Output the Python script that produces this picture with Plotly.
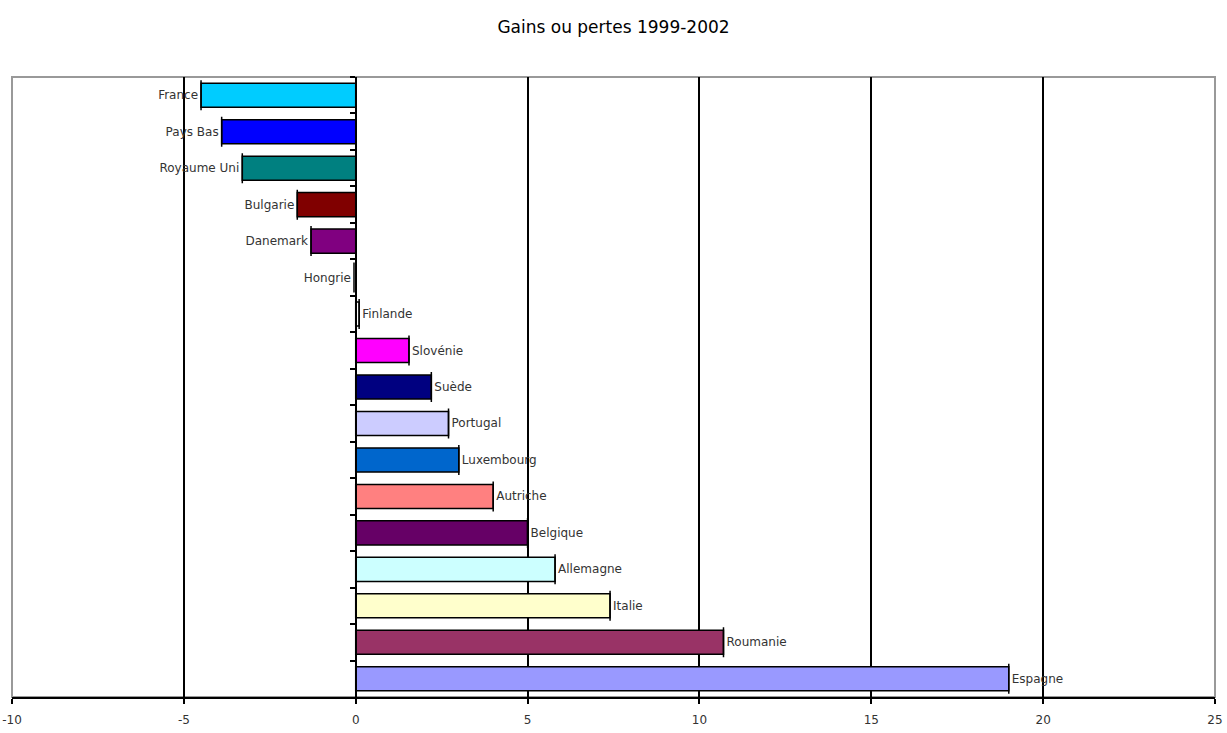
import plotly.graph_objects as go

countries = ["France", "Pays Bas", "Royaume Uni", "Bulgarie", "Danemark", "Hongrie",
             "Finlande", "Slovénie", "Suède", "Portugal", "Luxembourg", "Autriche",
             "Belgique", "Allemagne", "Italie", "Roumanie", "Espagne"]
values = [-4.5, -3.9, -3.3, -1.7, -1.3, -0.05, 0.1, 1.55, 2.2, 2.7, 3.0, 4.0,
          5.0, 5.8, 7.4, 10.7, 19.0]
errors = [0, 0, 0, 0, 0, None, 0, 0, 0, 0, 0, 0, 0, 0, 0, 0, 0]
colors = ["#00CCFF", "#0000FF", "#008080", "#800000", "#800080", "rgba(0,0,0,0)",
          "#FFFFFF", "#FF00FF", "#000080", "#CCCCFF", "#0066CC", "#FF8080",
          "#660066", "#CCFFFF", "#FFFFCC", "#993366", "#9999FF"]
outline = ["black"] * 5 + ["rgba(0,0,0,0)"] + ["black"] * 11
x_ticks = [-10, -5, 0, 5, 10, 15, 20, 25]

FONT = "DejaVu Sans"

fig = go.Figure(go.Bar(
    y=countries, x=values, orientation="h",
    marker=dict(color=colors, line=dict(color=outline, width=1.5)),
    text=countries, textposition="outside", cliponaxis=False,
    textfont=dict(family=FONT, size=12, color="#333333"),
    error_x=dict(type="data", array=errors, visible=True,
                 color="black", thickness=1.5, width=15),
    hoverinfo="x+y",
))

fig.update_layout(
    width=1227, height=733,
    margin=dict(l=12, r=12, t=77, b=36, autoexpand=False),
    plot_bgcolor="white", paper_bgcolor="white",
    bargap=0.34, showlegend=False,
    title=dict(text="Gains ou pertes 1999-2002", x=0.5, xanchor="center",
               y=1 - 27 / 733, yanchor="middle", yref="container",
               font=dict(family=FONT, size=17, color="black")),
    font=dict(family=FONT),
    xaxis=dict(range=[-10, 25], tickvals=x_ticks, ticktext=[str(v) for v in x_ticks],
               automargin=False,
               showgrid=True, gridcolor="black", gridwidth=1.5,
               zeroline=True, zerolinecolor="black", zerolinewidth=1.5,
               showline=True, linecolor="black", linewidth=1.5,
               ticks="outside", ticklen=5, tickcolor="black", tickwidth=1.5,
               ticklabelstandoff=6,
               tickfont=dict(family=FONT, size=12, color="#333333")),
    yaxis=dict(autorange="reversed", showticklabels=False, showgrid=False,
               automargin=False,
               anchor="free", position=10 / 35, showline=True, linecolor="black",
               linewidth=1.5, ticks="outside", ticklen=5, tickcolor="black",
               tickson="boundaries", tickwidth=1.5),
    shapes=[dict(type="rect", xref="paper", yref="paper", x0=0, x1=1, y0=0, y1=1,
                 line=dict(color="#999999", width=2), layer="below")],
)

fig.write_html("out.html")
